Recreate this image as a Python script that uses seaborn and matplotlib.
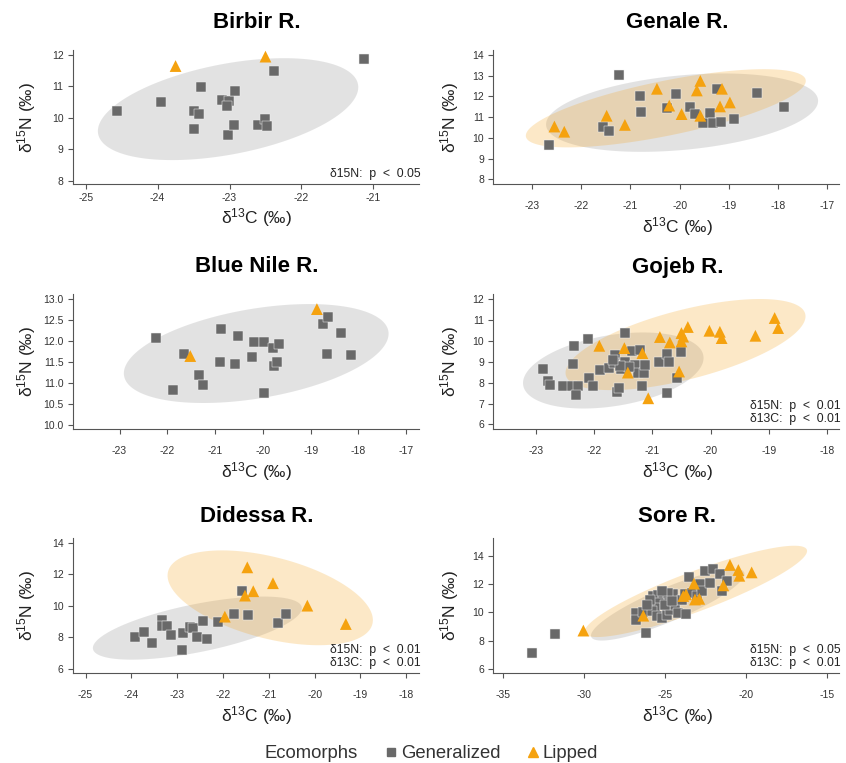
import numpy as np
import pandas as pd
import matplotlib
matplotlib.use("Agg")
import matplotlib.pyplot as plt
import seaborn as sns
from matplotlib.lines import Line2D

# ---------------- data ----------------
panel_titles = ["Birbir R.", "Genale R.", "Blue Nile R.", "Gojeb R.", "Didessa R.", "Sore R."]
ecomorphs = ["Generalized", "Lipped"]
legend_title = "Ecomorphs"

birbir_gen_c13 = [-24.57, -23.95, -23.39, -23.49, -23.42, -23.49, -23.10, -23.01, -23.03, -22.93,
                  -23.02, -22.94, -22.60, -22.50, -22.48, -22.38, -21.13]
birbir_gen_n15 = [10.21, 10.52, 10.98, 10.21, 10.14, 9.64, 10.56, 10.53, 10.37, 10.86,
                  9.47, 9.76, 9.79, 9.97, 9.75, 11.49, 11.86]
birbir_lip_c13 = [-23.75, -22.50]
birbir_lip_n15 = [11.65, 11.95]

genale_gen_c13 = [-21.23, -20.80, -20.78, -20.07, -20.26, -21.56, -21.44, -22.65, -19.79, -19.69,
                  -19.52, -19.38, -19.33, -19.16, -19.25, -18.89, -18.43, -17.89]
genale_gen_n15 = [13.02, 12.03, 11.27, 12.12, 11.42, 10.55, 10.34, 9.65, 11.47, 11.14,
                  10.74, 11.22, 10.74, 10.78, 12.35, 10.90, 12.15, 11.51]
genale_lip_c13 = [-22.54, -22.34, -21.48, -21.11, -20.46, -20.21, -19.96, -19.58, -19.65, -19.58,
                  -19.14, -19.18, -18.98]
genale_lip_n15 = [10.55, 10.30, 11.07, 10.63, 12.37, 11.56, 11.15, 12.75, 12.29, 11.07,
                  12.37, 11.52, 11.71]

bluenile_gen_c13 = [-22.24, -21.66, -21.89, -21.33, -21.26, -20.88, -20.89, -20.53, -20.59, -20.23,
                    -20.18, -19.97, -19.79, -19.67, -19.76, -19.71, -19.97, -18.75, -18.63, -18.37,
                    -18.65, -18.16]
bluenile_gen_n15 = [12.06, 11.70, 10.83, 11.18, 10.96, 12.28, 11.50, 12.13, 11.46, 11.62,
                    11.97, 11.97, 11.84, 11.92, 11.40, 11.50, 10.76, 12.41, 12.58, 12.18,
                    11.68, 11.66]
bluenile_lip_c13 = [-21.52, -18.87]
bluenile_lip_n15 = [11.64, 12.76]

gojeb_gen_c13 = [-22.87, -22.79, -22.75, -22.53, -22.35, -22.37, -22.38, -22.28, -22.31, -22.10,
                 -22.09, -22.01, -21.90, -21.75, -21.64, -21.65, -21.61, -21.57, -21.47, -21.53,
                 -21.47, -21.35, -21.21, -21.30, -21.24, -21.14, -21.13, -21.18, -20.89, -20.75,
                 -20.71, -20.50, -20.58, -20.74, -21.40, -21.55, -21.68]
gojeb_gen_n15 = [8.66, 8.08, 7.89, 7.86, 9.76, 8.90, 7.86, 7.86, 7.41, 10.10,
                 8.24, 7.86, 8.61, 8.69, 9.33, 8.96, 7.57, 7.73, 10.37, 8.64,
                 9.01, 9.52, 9.57, 8.85, 8.45, 8.45, 8.85, 7.86, 9.01, 9.38,
                 9.01, 9.46, 8.21, 7.51, 8.75, 8.80, 9.10]
gojeb_lip_c13 = [-21.91, -21.48, -21.17, -21.42, -21.07, -20.87, -20.70, -20.54, -20.50, -20.47,
                 -20.50, -20.39, -20.02, -19.84, -19.81, -19.23, -18.90, -18.84]
gojeb_lip_n15 = [9.76, 9.65, 9.41, 8.48, 7.25, 10.18, 9.92, 8.53, 10.37, 10.20,
                 9.97, 10.66, 10.48, 10.43, 10.13, 10.24, 11.09, 10.61]

didessa_gen_c13 = [-23.91, -23.73, -23.54, -23.34, -23.34, -23.23, -23.14, -22.90, -22.87, -22.71,
                   -22.65, -22.57, -22.43, -22.34, -22.12, -21.59, -21.75, -21.45, -20.79, -20.62]
didessa_gen_n15 = [8.03, 8.35, 7.66, 9.09, 8.71, 8.71, 8.13, 7.17, 8.24, 8.67,
                   8.60, 8.03, 9.05, 7.86, 8.99, 10.97, 9.48, 9.41, 8.92, 9.48]
didessa_lip_c13 = [-21.47, -21.52, -21.34, -20.91, -20.16, -21.96, -19.32]
didessa_lip_n15 = [12.45, 10.65, 10.93, 11.44, 10.01, 9.31, 8.84]

sore_gen_c13 = [-33.25, -31.81, -26.17, -26.81, -26.81, -26.40, -25.74, -25.43, -25.12, -25.37,
                -25.64, -25.84, -25.53, -25.23, -24.92, -24.71, -24.51, -24.40, -24.20, -23.99,
                -23.79, -23.72, -23.52, -23.37, -23.07, -22.86, -22.76, -22.55, -22.24, -22.04,
                -21.63, -21.52, -21.21, -24.81, -25.23, -25.95, -26.15, -25.02, -24.61]
sore_gen_n15 = [7.13, 8.45, 8.57, 9.96, 9.44, 10.01, 11.17, 11.21, 11.05, 10.68,
                10.32, 10.08, 9.72, 9.60, 9.84, 10.20, 11.29, 10.56, 9.96, 10.92,
                11.29, 9.89, 12.49, 11.41, 11.17, 12.01, 11.53, 12.97, 12.13, 13.09,
                12.73, 11.53, 12.25, 11.41, 11.53, 10.92, 10.56, 10.56, 10.80]
sore_lip_c13 = [-30.06, -26.36, -23.89, -23.72, -23.23, -23.17, -22.90, -21.42, -21.01, -20.49,
                -20.43, -19.67]
sore_lip_n15 = [8.71, 9.77, 11.17, 11.29, 12.05, 10.92, 10.97, 11.93, 13.38, 13.02,
                12.61, 12.85]

# ellipses: centre x, centre y, half-width, half-height, correlation (None = no ellipse)
birbir_gen_ell = (-23.02, 10.28, 1.81, 1.62, 0.43)
birbir_lip_ell = None
genale_gen_ell = (-19.95, 11.22, 2.76, 1.89, 0.30)
genale_lip_ell = (-20.28, 11.43, 2.84, 1.885, 0.70)
bluenile_gen_ell = (-20.14, 11.70, 2.77, 1.18, 0.40)
bluenile_lip_ell = None
gojeb_gen_ell = (-21.67, 8.58, 1.55, 1.82, 0.33)
gojeb_lip_ell = (-20.43, 9.82, 2.06, 2.18, 0.62)
didessa_gen_ell = (-22.56, 8.58, 2.28, 2.01, 0.63)
didessa_lip_ell = (-20.97, 10.51, 2.24, 3.02, -0.47)
sore_gen_ell = (-24.85, 10.55, 4.74, 2.55, 0.86)
sore_lip_ell = (-23.12, 11.50, 6.87, 3.25, 0.885)

# statistics annotations
birbir_note = "δ15N:  p  <  0.05"
genale_note = ""
bluenile_note = ""
gojeb_note = "δ15N:  p  <  0.01\nδ13C:  p  <  0.01"
didessa_note = "δ15N:  p  <  0.01\nδ13C:  p  <  0.01"
sore_note = "δ15N:  p  <  0.05\nδ13C:  p  <  0.01"

# axis ticks
birbir_xticks = [-25, -24, -23, -22, -21]
birbir_yticks = [8, 9, 10, 11, 12]
genale_xticks = [-23, -22, -21, -20, -19, -18, -17]
genale_yticks = [8, 9, 10, 11, 12, 13, 14]
bluenile_xticks = [-23, -22, -21, -20, -19, -18, -17]
bluenile_yticks = [10.0, 10.5, 11.0, 11.5, 12.0, 12.5, 13.0]
gojeb_xticks = [-23, -22, -21, -20, -19, -18]
gojeb_yticks = [6, 7, 8, 9, 10, 11, 12]
didessa_xticks = [-25, -24, -23, -22, -21, -20, -19, -18]
didessa_yticks = [6, 8, 10, 12, 14]
sore_xticks = [-35, -30, -25, -20, -15]
sore_yticks = [6, 8, 10, 12, 14]

# ---------------- styling ----------------
sns.set_theme(style="white")
plt.rcParams["font.family"] = ["Liberation Sans", "DejaVu Sans"]
plt.rcParams["mathtext.fontset"] = "custom"
plt.rcParams["mathtext.rm"] = "Liberation Sans"
plt.rcParams["mathtext.it"] = "Liberation Sans:italic"
plt.rcParams["mathtext.bf"] = "Liberation Sans:bold"
plt.rcParams["axes.unicode_minus"] = False

GEN_COLOR = "#696969"
LIP_COLOR = "#F5A20F"
GEN_FILL = "#9a9a9a"
LIP_FILL = "#F5A623"
AX_COLOR = "#555555"
TXT_COLOR = "#222222"

panels = [
    dict(title=panel_titles[0], gx=birbir_gen_c13, gy=birbir_gen_n15, lx=birbir_lip_c13, ly=birbir_lip_n15,
         ge=birbir_gen_ell, le=birbir_lip_ell, note=birbir_note, xt=birbir_xticks, yt=birbir_yticks,
         xlim=(-25.18, -20.37), ylim=(7.9, 12.16), yfmt="{:.0f}", tight=True),
    dict(title=panel_titles[1], gx=genale_gen_c13, gy=genale_gen_n15, lx=genale_lip_c13, ly=genale_lip_n15,
         ge=genale_gen_ell, le=genale_lip_ell, note=genale_note, xt=genale_xticks, yt=genale_yticks,
         xlim=(-23.78, -16.76), ylim=(7.78, 14.24), yfmt="{:.0f}", tight=False),
    dict(title=panel_titles[2], gx=bluenile_gen_c13, gy=bluenile_gen_n15, lx=bluenile_lip_c13, ly=bluenile_lip_n15,
         ge=bluenile_gen_ell, le=bluenile_lip_ell, note=bluenile_note, xt=bluenile_xticks, yt=bluenile_yticks,
         xlim=(-23.98, -16.74), ylim=(9.90, 13.12), yfmt="{:.1f}", tight=False),
    dict(title=panel_titles[3], gx=gojeb_gen_c13, gy=gojeb_gen_n15, lx=gojeb_lip_c13, ly=gojeb_lip_n15,
         ge=gojeb_gen_ell, le=gojeb_lip_ell, note=gojeb_note, xt=gojeb_xticks, yt=gojeb_yticks,
         xlim=(-23.73, -17.79), ylim=(5.78, 12.24), yfmt="{:.0f}", tight=False),
    dict(title=panel_titles[4], gx=didessa_gen_c13, gy=didessa_gen_n15, lx=didessa_lip_c13, ly=didessa_lip_n15,
         ge=didessa_gen_ell, le=didessa_lip_ell, note=didessa_note, xt=didessa_xticks, yt=didessa_yticks,
         xlim=(-25.28, -17.73), ylim=(5.72, 14.32), yfmt="{:.0f}", tight=False),
    dict(title=panel_titles[5], gx=sore_gen_c13, gy=sore_gen_n15, lx=sore_lip_c13, ly=sore_lip_n15,
         ge=sore_gen_ell, le=sore_lip_ell, note=sore_note, xt=sore_xticks, yt=sore_yticks,
         xlim=(-35.62, -14.26), ylim=(5.69, 15.30), yfmt="{:.0f}", tight=False),
]


def ellipse_xy(params, n=240):
    cx, cy, wx, wy, rho = params
    t = np.linspace(0, 2 * np.pi, n)
    x = cx + wx * np.cos(t)
    y = cy + wy * (rho * np.cos(t) + np.sqrt(1 - rho ** 2) * np.sin(t))
    return x, y


W, H = 846, 763
fig = plt.figure(figsize=(W / 100, H / 100), dpi=100)

row_top = [50, 294, 538]
row_bot = [184, 429, 673]
title_gap = [27, 27, 21.5]
col_left = [72.7, 493.3]
ylab_x = [-0.10, -0.092]
ax_w = 346

for i, p in enumerate(panels):
    r, c = divmod(i, 2)
    left = col_left[c] / W
    bottom = 1 - row_bot[r] / H
    hpx = row_bot[r] - row_top[r]
    ax = fig.add_axes([left, bottom, ax_w / W, hpx / H])

    if p["ge"] is not None:
        ex, ey = ellipse_xy(p["ge"])
        ax.fill(ex, ey, color=GEN_FILL, alpha=0.28, lw=0, zorder=1)
    if p["le"] is not None:
        ex, ey = ellipse_xy(p["le"])
        ax.fill(ex, ey, color=LIP_FILL, alpha=0.25, lw=0, zorder=1)

    dfg = pd.DataFrame({"c13": p["gx"], "n15": p["gy"], "Ecomorph": ecomorphs[0]})
    dfl = pd.DataFrame({"c13": p["lx"], "n15": p["ly"], "Ecomorph": ecomorphs[1]})
    sns.scatterplot(data=dfg, x="c13", y="n15", marker="s", color=GEN_COLOR, s=58,
                    edgecolor="#f2f2f2", linewidth=0.35, ax=ax, legend=False, zorder=3)
    sns.scatterplot(data=dfl, x="c13", y="n15", marker="^", color=LIP_COLOR, s=72,
                    edgecolor="none", linewidth=0, ax=ax, legend=False, zorder=4)

    ax.set_xlim(p["xlim"])
    ax.set_ylim(p["ylim"])
    ax.set_xticks(p["xt"])
    ax.set_xticklabels([f"{v:g}" for v in p["xt"]])
    ax.set_yticks(p["yt"])
    ax.set_yticklabels([p["yfmt"].format(v) for v in p["yt"]])
    for s in ["top", "right"]:
        ax.spines[s].set_visible(False)
    for s in ["left", "bottom"]:
        ax.spines[s].set_color(AX_COLOR)
        ax.spines[s].set_linewidth(0.8)
    ax.tick_params(axis="both", direction="out", length=3.5, width=0.8, color=AX_COLOR,
                   labelsize=7.5, labelcolor="#333333", pad=3, left=True, bottom=True)
    ax.tick_params(axis="x", pad=3 if p["tight"] else 9)

    ax.set_xlabel("δ$^{13}$C (‰)", fontsize=12.5, color=TXT_COLOR)
    ax.set_ylabel("δ$^{15}$N (‰)", fontsize=12.5, color=TXT_COLOR)
    xl_gap = 22 if p["tight"] else 31
    ax.xaxis.set_label_coords(0.532, -xl_gap / hpx)
    ax.xaxis.label.set_va("top")
    ax.yaxis.set_label_coords(ylab_x[c], 0.5)

    ax.text(0.532, 1 + title_gap[r] / hpx, p["title"], transform=ax.transAxes, ha="center",
            va="center", fontsize=16, fontweight="bold", color="black")
    if p["note"]:
        ax.text(1.005, 0.03, p["note"], transform=ax.transAxes, ha="right", va="bottom",
                fontsize=8.8, color=TXT_COLOR, linespacing=1.05)

# legend: title placed inline as a first entry without a marker
handles = [
    Line2D([], [], linestyle="none", marker=None),
    Line2D([], [], marker="s", color=GEN_COLOR, linestyle="none", markersize=6),
    Line2D([], [], marker="^", color=LIP_COLOR, linestyle="none", markersize=7),
]
fig.legend(handles, [legend_title] + ecomorphs, loc="center left",
           bbox_to_anchor=(240 / W, 1 - 753.5 / H),
           ncol=3, frameon=False, fontsize=13.3, handletextpad=0.15, columnspacing=1.45,
           handlelength=0.7, borderpad=0, labelcolor="#333333")

fig.savefig("out.png", dpi=100, facecolor="white")
